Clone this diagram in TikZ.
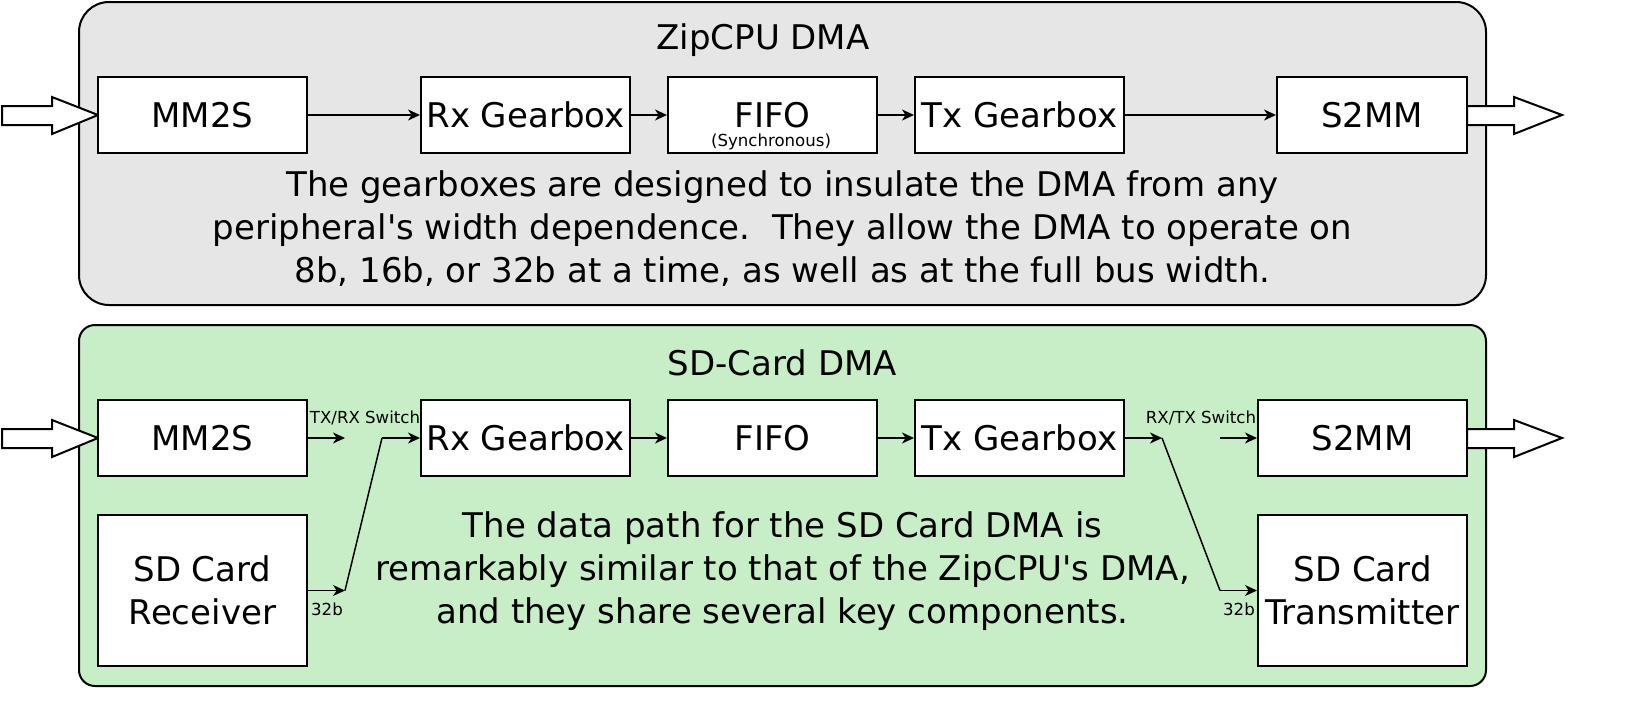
\documentclass[tikz,border=0pt]{standalone}
\usepackage{fontspec}
\setmainfont{DejaVu Sans}
\usetikzlibrary{arrows.meta}
\definecolor{dmagray}{HTML}{E6E6E6}
\definecolor{sdgreen}{HTML}{C8EEC8}
\tikzset{
    bigfont/.style={font=\fontsize{17}{21.5}\selectfont},
    smallfont/.style={font=\fontsize{8.3}{10}\selectfont},
    block/.style={draw, line width=1pt, fill=white, inner sep=0pt, align=center,
        minimum width=104.5pt, minimum height=38pt, bigfont},
    panel/.style={draw, line width=1pt},
    flow/.style={line width=0.75pt, -{Stealth[length=6pt,width=5.5pt,inset=1.8pt]}},
    wire/.style={line width=0.75pt},
    bigarrow/.style={draw, line width=1pt, fill=white}
}

\begin{document}
\begin{tikzpicture}[x=0.5pt, y=-0.5pt]
            \useasboundingbox (0,0) rectangle (1649,723);

            % ZipCPU DMA
            \draw[panel, fill=dmagray, rounded corners=15pt] (79,2) rectangle (1486,305);
            \node[bigfont] (ztitle) at (763,40) {ZipCPU DMA};
            \draw[bigarrow] (2,106) -- (52,106) -- (52,97) -- (98,115) -- (52,134) -- (52,125) -- (2,125) -- cycle;
            \draw[bigarrow] (1467,106) -- (1514,106) -- (1514,97) -- (1562,115) -- (1514,134) -- (1514,125) -- (1467,125) -- cycle;
            \node[block] (zmm2s) at (202.5,115) {MM2S};
            \node[block] (zrxgear) at (525.5,115) {Rx Gearbox};
            \node[block] (zfifo) at (772.5,115) {FIFO};
            \node[smallfont] (zsync) at (771,142) {(Synchronous)};
            \node[block] (ztxgear) at (1019.5,115) {Tx Gearbox};
            \node[block, minimum width=95pt] (zs2mm) at (1372,115) {S2MM};
            \draw[flow] (zmm2s) -- (zrxgear);
            \draw[flow] (zrxgear) -- (zfifo);
            \draw[flow] (zfifo) -- (ztxgear);
            \draw[flow] (ztxgear) -- (zs2mm);
            \node[bigfont, align=center] (znote) at (782.5,229) {The gearboxes are designed to insulate the DMA from any\\
                peripheral\textquotesingle s width dependence.\ \ They allow the DMA to operate on\\
                8b, 16b, or 32b at a time, as well as at the full bus width.};

            % SD-Card DMA
            \draw[panel, fill=sdgreen, rounded corners=8pt] (79,325) rectangle (1486,686);
            \node[bigfont] (stitle) at (782.5,363) {SD-Card DMA};
            \draw[bigarrow] (2,429) -- (52,429) -- (52,420) -- (98,438) -- (52,457) -- (52,448) -- (2,448) -- cycle;
            \draw[bigarrow] (1467,429) -- (1514,429) -- (1514,420) -- (1562,438) -- (1514,457) -- (1514,448) -- (1467,448) -- cycle;
            \node[block] (smm2s) at (202.5,438) {MM2S};
            \node[block] (srxgear) at (525.5,438) {Rx Gearbox};
            \node[block] (sfifo) at (772.5,438) {FIFO};
            \node[block] (stxgear) at (1019.5,438) {Tx Gearbox};
            \node[block] (ss2mm) at (1362.5,438) {S2MM};
            \node[block, minimum height=75.5pt] (srecv) at (202.5,590.5) {SD Card\\Receiver};
            \node[block, minimum height=75.5pt] (sxmit) at (1362.5,590.5) {SD Card\\Transmitter};

            % TX/RX switch
            \coordinate (rxa) at (345,438);
            \coordinate (rxb) at (345,590.5);
            \coordinate (rxc) at (382,438);
            \node[smallfont] (rxlabel) at (365,418) {TX/RX Switch};
            \node[smallfont] (rxwidth) at (327,609) {32b};
            \draw[flow] (smm2s) -- (rxa);
            \draw[flow] (srecv) -- (rxb);
            \draw[wire] (rxb) -- (rxc);
            \draw[flow] (rxc) -- (srxgear);

            \draw[flow] (srxgear) -- (sfifo);
            \draw[flow] (sfifo) -- (stxgear);

            % RX/TX switch
            \coordinate (txa) at (1162,438);
            \coordinate (txb) at (1220,590.5);
            \coordinate (txc) at (1220,438);
            \node[smallfont] (txlabel) at (1201,418) {RX/TX Switch};
            \node[smallfont] (txwidth) at (1239,609) {32b};
            \draw[flow] (stxgear) -- (txa);
            \draw[wire] (txa) -- (txb);
            \draw[flow] (txb) -- (sxmit);
            \draw[flow] (txc) -- (ss2mm);

            \node[bigfont, align=center] (snote) at (782.5,571) {The data path for the SD Card DMA is\\
                remarkably similar to that of the ZipCPU\textquotesingle s DMA,\\
                and they share several key components.};
\end{tikzpicture}
\end{document}
